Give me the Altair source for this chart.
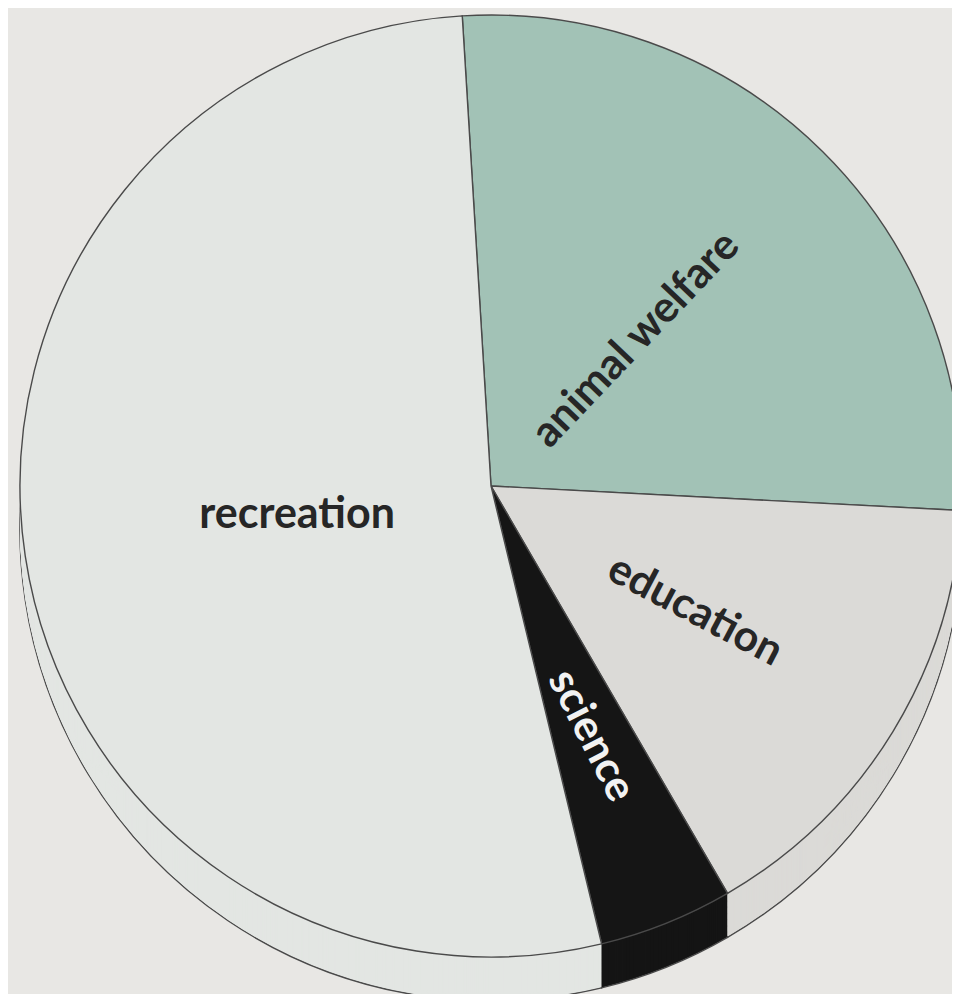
import math
import altair as alt
import pandas as pd

# ---- data ----
categories = ["animal welfare", "education", "science", "recreation"]
shares = [26.8, 15.8, 4.6, 52.8]          # percent of the pie
order_index = [0, 1, 2, 3]                # clockwise from the top

# ---- styling / layout (not data) ----
slice_colors = ["#a2c2b6", "#dbdad7", "#151515", "#e3e6e3"]
label_colors = ["#262626", "#262626", "#f2f2f2", "#262626"]
label_angles = [313.5, 27.8, 63.0, 0.0]
label_radii = [206, 239, 269, 196]

START = math.radians(-3.5)
CX, CY, R, DEPTH = 483, 478, 471, 44
W, H = 944, 986

base_df = pd.DataFrame({
    "category": categories,
    "share": shares,
    "ord": order_index,
    "lab_angle": label_angles,
    "lab_r": label_radii,
})

theta_scale = alt.Scale(domain=[0, 100], range=[START, START + 2 * math.pi])
color_enc = alt.Color("category:N", scale=alt.Scale(domain=categories, range=slice_colors), legend=None)


def with_depths(depths):
    frames = []
    for d in depths:
        f = base_df.copy()
        f["depth"] = d
        frames.append(f)
    return pd.concat(frames, ignore_index=True)


def pie(df, **mark_kw):
    return (
        alt.Chart(df)
        .transform_window(cum="sum(share)", sort=[alt.SortField("ord")], groupby=["depth"], frame=[None, 0])
        .transform_calculate(t0="datum.cum - datum.share", py=f"{CY} + datum.depth")
        .mark_arc(radius=R, **mark_kw)
        .encode(
            theta=alt.Theta("t0:Q", scale=theta_scale, stack=None),
            theta2="cum:Q",
            x=alt.value(CX),
            y=alt.Y("py:Q", scale=None, axis=None, stack=None),
            color=color_enc,
        )
    )


bottom = pie(with_depths([DEPTH]), stroke="#4a4a4a", strokeWidth=1.4)
middle = pie(with_depths(list(range(DEPTH - 1, 0, -1))), strokeWidth=0)
top = pie(with_depths([0]), stroke="#4a4a4a", strokeWidth=1.4)

labels = (
    alt.Chart(with_depths([0]))
    .transform_window(cum="sum(share)", sort=[alt.SortField("ord")], groupby=["depth"], frame=[None, 0])
    .transform_calculate(mid="datum.cum - datum.share / 2")
    .mark_text(font="Lato", fontWeight="bold", fontSize=43, align="center", baseline="middle")
    .encode(
        theta=alt.Theta("mid:Q", scale=theta_scale, stack=None),
        radius=alt.Radius("lab_r:Q", scale=None),
        x=alt.value(CX),
        y=alt.value(CY),
        angle=alt.Angle("lab_angle:Q", scale=None),
        text="category:N",
        color=alt.Color("category:N", scale=alt.Scale(domain=categories, range=label_colors), legend=None),
    )
)

chart = (
    alt.layer(bottom, middle, top, labels)
    .resolve_scale(color="independent")
    .properties(width=W, height=H, padding=0, autosize=alt.AutoSizeParams(type="none"))
    .configure(background="#e8e7e4")
    .configure_view(stroke=None)
)

chart.save("out.html", embed_options={"renderer": "svg", "actions": False})
